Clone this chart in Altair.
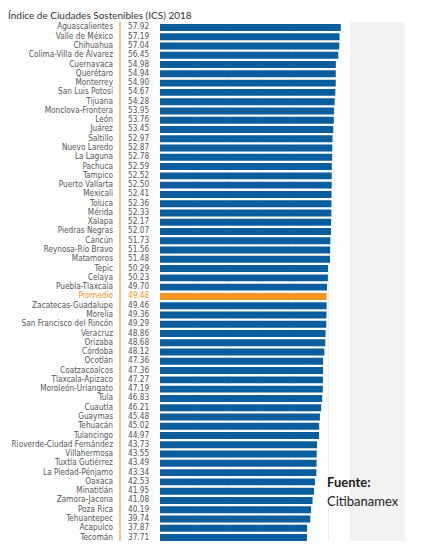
import altair as alt
import pandas as pd

cities = ["Aguascalientes", "Valle de México", "Chihuahua", "Colima-Villa de Álvarez",
          "Cuernavaca", "Querétaro", "Monterrey", "San Luis Potosí", "Tijuana",
          "Monclova-Frontera", "León", "Juárez", "Saltillo", "Nuevo Laredo", "La Laguna",
          "Pachuca", "Tampico", "Puerto Vallarta", "Mexicali", "Toluca", "Mérida", "Xalapa",
          "Piedras Negras", "Cancún", "Reynosa-Río Bravo", "Matamoros", "Tepic", "Celaya",
          "Puebla-Tlaxcala", "Promedio", "Zacatecas-Guadalupe", "Morelia",
          "San Francisco del Rincón", "Veracruz", "Orizaba", "Córdoba", "Ocotlán",
          "Coatzacoalcos", "Tlaxcala-Apizaco", "Moroleón-Uriangato", "Tula", "Cuautla",
          "Guaymas", "Tehuacán", "Tulancingo", "Rioverde-Ciudad Fernández", "Villahermosa",
          "Tuxtla Gutiérrez", "La Piedad-Pénjamo", "Oaxaca", "Minatitlán", "Zamora-Jacona",
          "Poza Rica", "Tehuantepec", "Acapulco", "Tecomán"]

values = [57.92, 57.19, 57.04, 56.45, 54.98, 54.94, 54.90, 54.67, 54.28, 53.95, 53.76,
          53.45, 52.97, 52.87, 52.78, 52.59, 52.52, 52.50, 52.41, 52.36, 52.33, 52.17,
          52.07, 51.73, 51.56, 51.48, 50.29, 50.23, 49.70, 49.48, 49.46, 49.36, 49.29,
          48.86, 48.68, 48.12, 47.36, 47.36, 47.27, 47.19, 46.83, 46.21, 45.48, 45.02,
          44.97, 43.73, 43.55, 43.49, 43.34, 42.53, 41.95, 41.08, 40.19, 39.74, 37.87,
          37.71]

grid_values = [-30, -10, 10, 30, 50]
title_text = "Índice de Ciudades Sostenibles (ICS) 2018"
source_title = "Fuente:"
source_name = "Citibanamex"

BLUE = "#0b5e9e"
ORANGE = "#f7941d"
LABEL_GRAY = "#555555"

df = pd.DataFrame({"ciudad": cities, "ics": values})

y_enc = alt.Y("ciudad:N", sort=None, axis=None,
              scale=alt.Scale(paddingInner=0.25, paddingOuter=0))
x_scale = alt.Scale(domain=[-50, 70], range=[152, 353], zero=False, nice=False)
is_avg = alt.datum.ciudad == "Promedio"

base = alt.Chart(df)

# decorative background panel on the right
panel = base.mark_rect(color="#f2f2f2").encode(
    x=alt.value(342), x2=alt.value(397), y=alt.value(-2), y2=alt.value(520))

bars = base.mark_bar().encode(
    x=alt.X("ics:Q", scale=x_scale,
            axis=alt.Axis(values=grid_values, grid=True, gridColor="#ededed",
                          labels=False, ticks=False, domain=False, title=None)),
    x2=alt.datum(-50),
    y=y_enc,
    color=alt.condition(is_avg, alt.value(ORANGE), alt.value(BLUE)),
)

sep = base.mark_rule(color="#f0c890", strokeWidth=1.2).encode(
    x=alt.value(112), y=alt.value(-2), y2=alt.value(517))

names = base.mark_text(align="right", baseline="middle", fontSize=8.2,
                       font="Liberation Sans Narrow, DejaVu Sans Condensed, sans-serif").encode(
    x=alt.value(105), y=y_enc, text="ciudad:N",
    color=alt.condition(is_avg, alt.value(ORANGE), alt.value(LABEL_GRAY)),
)

nums = base.mark_text(align="left", baseline="middle", fontSize=8.2,
                      font="DejaVu Sans Condensed, sans-serif").encode(
    x=alt.value(120), y=y_enc, text=alt.Text("ics:Q", format=".2f"),
    color=alt.condition(is_avg, alt.value(ORANGE), alt.value(LABEL_GRAY)),
)

title = alt.Chart(pd.DataFrame({"t": [title_text]})).mark_text(
    align="left", baseline="alphabetic", fontSize=10, font="Lato", color="#333333"
).encode(x=alt.value(0), y=alt.value(-5), text="t:N")

src_head = alt.Chart(pd.DataFrame({"t": [source_title]})).mark_text(
    align="left", baseline="alphabetic", fontSize=13, font="Lato", fontWeight="bold",
    color="#1a1a1a"
).encode(x=alt.value(319), y=alt.value(463), text="t:N")

src_name = alt.Chart(pd.DataFrame({"t": [source_name]})).mark_text(
    align="left", baseline="alphabetic", fontSize=13, font="Lato", color="#1a1a1a"
).encode(x=alt.value(319), y=alt.value(482), text="t:N")

chart = alt.layer(panel, bars, sep, names, nums, title, src_head, src_name).properties(
    width=400, height=517,
    padding={"left": 0, "top": 16, "right": 0, "bottom": 0},
    autosize=alt.AutoSizeParams(type="none"),
    background="white",
).configure_view(stroke=None)

chart.save("out.html", embed_options={"renderer": "svg", "actions": False})
